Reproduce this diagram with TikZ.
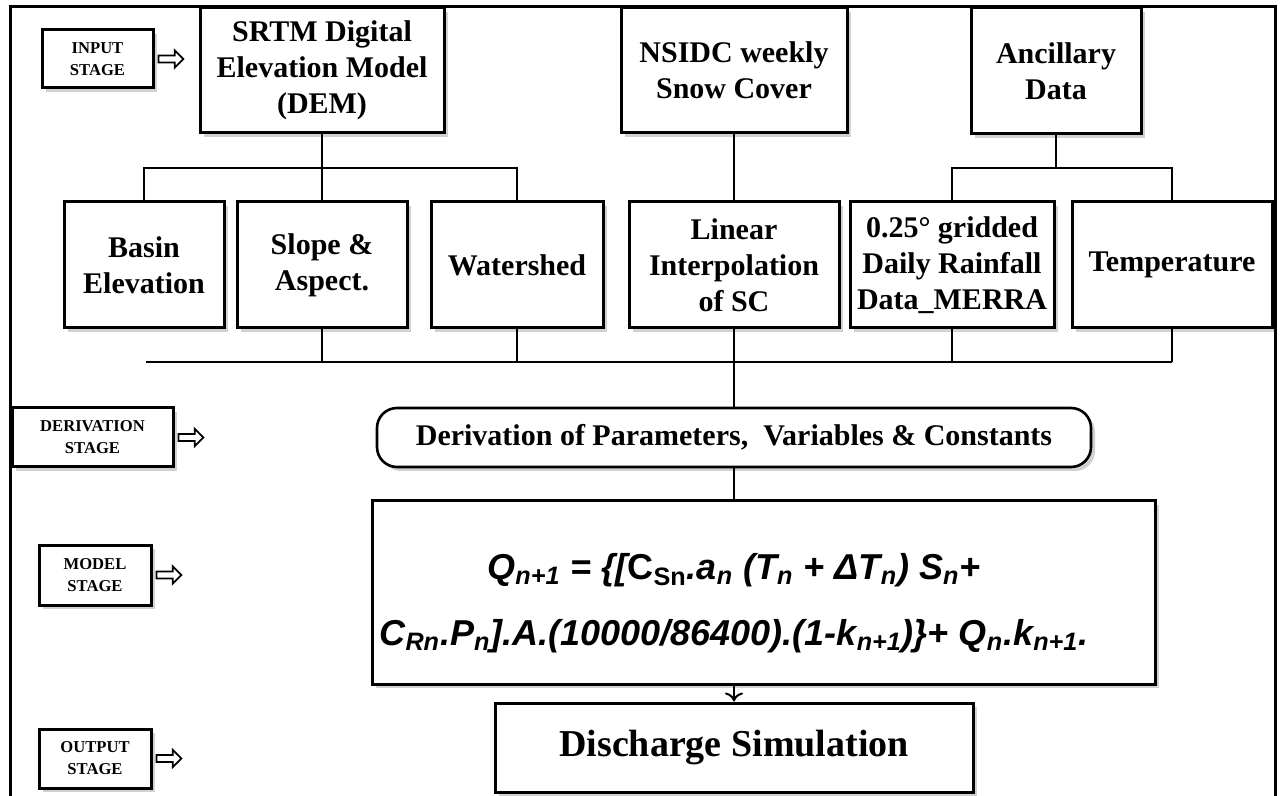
\documentclass[tikz,border=0pt]{standalone}
\usepackage{fontspec}
\setmainfont{Liberation Serif}
\newfontfamily\eqfont{Liberation Sans}
\usetikzlibrary{positioning,shapes.arrows,shadows,arrows.meta}

\tikzset{
  sz/.style 2 args={minimum width=#1*0.5pt, minimum height=#2*0.5pt},
  box/.style={draw, line width=1.5pt, fill=white, align=center, inner sep=0pt,
    font=\fontsize{15}{18}\selectfont\bfseries,
    drop shadow={shadow xshift=2pt, shadow yshift=-2pt, fill=black, opacity=0.18}},
  stagebox/.style={box, font=\fontsize{8.3}{11}\selectfont\bfseries},
  stagearrow/.style={single arrow, draw, line width=0.9pt, fill=white, inner sep=1.3pt,
    minimum height=12.5pt, single arrow head extend=2.6pt},
  link/.style={line width=1pt},
}

\begin{document}
\begin{tikzpicture}[x=0.5pt, y=-0.5pt]
\useasboundingbox (0,0) rectangle (1280,796);
% outer frame
\draw[line width=1.5pt] (10,796) -- (10,7) -- (1275,7) -- (1275,796);

% stage labels
\node[stagebox, sz={111}{58}] (inp) at (97.5,59) {INPUT\\STAGE};
\node[stagebox, sz={161}{59}] (drv) at (92.5,437.5) {DERIVATION\\STAGE};
\node[stagebox, sz={112}{60}] (mdl) at (95,575) {MODEL\\STAGE};
\node[stagebox, sz={112}{59}] (otp) at (95,758.5) {OUTPUT\\STAGE};
\foreach \s in {inp,drv,mdl,otp}
  \node[stagearrow, right=1.5pt of \s] (\s arr) {};

% input data
\node[box, sz={244}{125}] (srtm) at (322,70.5) {SRTM Digital\\Elevation Model\\(DEM)};
\node[box, sz={226}{125}] (nsidc) at (734,70.5) {NSIDC weekly\\Snow Cover};
\node[box, sz={170}{126}] (anc) at (1056,71) {Ancillary\\Data};

% derived layers
\node[box, sz={160}{126}] (basin) at (144,265) {Basin\\Elevation};
\node[box, sz={170}{126}] (slope) at (322,265) {Slope \&\\Aspect.};
\node[box, sz={172}{126}] (water) at (517,265) {Watershed};
\node[box, sz={210}{126}] (linear) at (734,265) {Linear\\Interpolation\\of SC};
\node[box, sz={204}{126}] (grid) at (952,265) {0.25° gridded\\Daily Rainfall\\Data\_MERRA};
\node[box, sz={200}{126}] (temp) at (1172,265) {Temperature};

\coordinate (split) at (0,168);
\coordinate (bus) at (146,362);

\draw[link] (srtm) -- (slope);
\draw[link] (basin.north) |- (water.north |- split) -- (water.north);
\draw[link] (nsidc) -- (linear);
\draw[link] (anc.south) -- (anc.south |- split);
\draw[link] (grid.north) |- (temp.north |- split) -- (temp.north);

\draw[link] (bus) -- (bus -| temp.south);
\foreach \n in {slope,water,linear,grid,temp}
  \draw[link] (\n.south) -- (\n.south |- bus);

% derivation, model, output
\node[box, rounded corners=10pt, line width=1.3pt, sz={714}{59}] (der) at (734,437.5)
  {Derivation of Parameters,\ \ Variables \& Constants};
\node[box, sz={783}{183}] (model) at (763.5,592.5) {};
\node[align=center, inner sep=0pt, font=\eqfont\fontsize{18}{33}\selectfont\bfseries\itshape] (eq) at (734,603)
  {Q\textsubscript{n+1} = \{[{\upshape C\textsubscript{Sn}}.a\textsubscript{n} (T\textsubscript{n} + ΔT\textsubscript{n}) S\textsubscript{n}+\\
   C\textsubscript{Rn}.P\textsubscript{n}].A.(10000/86400).(1-k\textsubscript{n+1})\}+ Q\textsubscript{n}.k\textsubscript{n+1}.};
\node[box, sz={478}{89}, font=\fontsize{19}{22}\selectfont\bfseries] (dis) at (734,747.5) {Discharge Simulation};

\draw[link] (linear.south |- bus) -- (der.north);
\draw[link] (der.south) -- (der.south |- model.north);
\draw[link, -{To[length=4.5pt,width=9pt]}] (der.south |- model.south) -- (dis.north);
\end{tikzpicture}
\end{document}
